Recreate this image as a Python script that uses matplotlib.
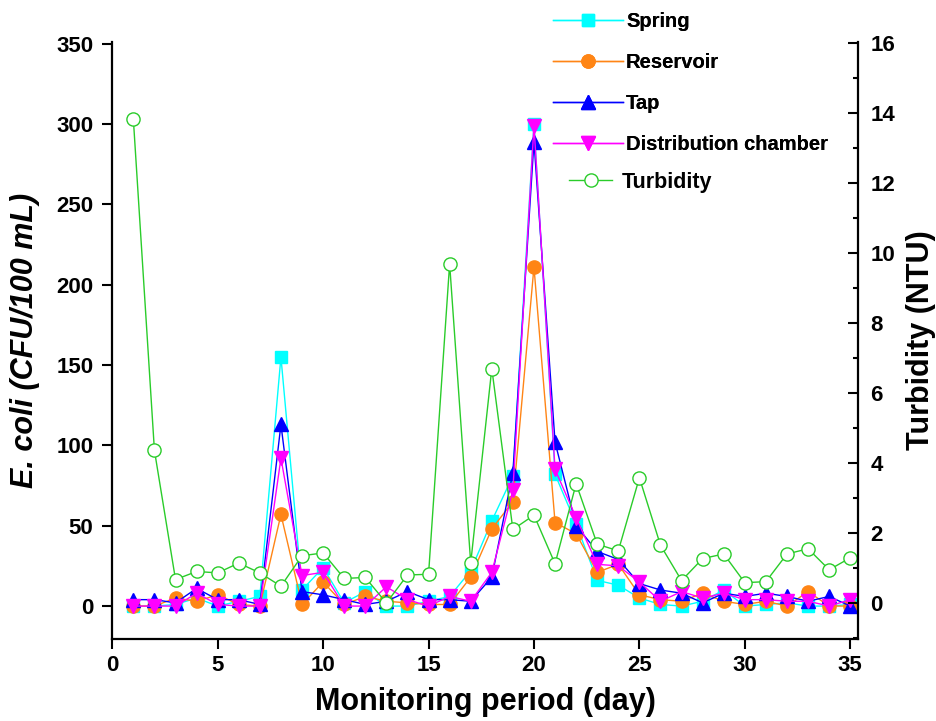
import matplotlib
matplotlib.use("Agg")
import matplotlib.pyplot as plt
from matplotlib.ticker import MultipleLocator

plt.rcParams['font.family'] = ['Liberation Sans', 'DejaVu Sans']
plt.rcParams['font.weight'] = 'bold'

# monitoring days
days = list(range(1, 36))

# E. coli counts (CFU/100 mL)
spring = [0, 0, 1, 5, 0, 3, 6, 155, 10, 24, 2, 9, 0, 0, 3, 6, 22, 53, 81, 300,
          82, 51, 16, 13, 5, 1, 0, 3, 10, 0, 1, 2, 0, 0, 1]
reservoir = [0, 0, 5, 3, 7, 1, 0, 57, 1, 15, 1, 6, 3, 2, 1, 1, 18, 48, 65, 211,
             52, 45, 21, 26, 7, 4, 3, 8, 3, 1, 3, 0, 9, 0, 0]
tap = [4, 4, 2, 11, 4, 4, 1, 113, 9, 7, 4, 1, 3, 9, 4, 4, 3, 18, 83, 289,
       102, 50, 34, 29, 14, 10, 8, 2, 8, 6, 8, 6, 3, 6, 0]
distribution = [0, 0, 0, 8, 1, 0, 0, 92, 19, 21, 0, 0, 12, 4, 0, 6, 3, 21, 72, 299,
                85, 55, 26, 25, 15, 3, 9, 5, 8, 4, 4, 3, 3, 0, 4]

# turbidity (NTU)
turbidity = [13.83, 4.36, 0.67, 0.90, 0.86, 1.14, 0.86, 0.48, 1.35, 1.43, 0.70, 0.73,
             0.0, 0.80, 0.82, 9.69, 1.14, 6.70, 2.10, 2.51, 1.12, 3.41, 1.68, 1.49,
             3.58, 1.65, 0.64, 1.27, 1.40, 0.58, 0.61, 1.40, 1.55, 0.95, 1.29]

fig = plt.figure(figsize=(9.37, 7.21), dpi=100)
ax = fig.add_axes([0.1198, 0.1137, 0.7955, 0.828])
ax2 = ax.twinx()

l1, = ax.plot(days, spring, color='#00FFFF', lw=1, marker='s', ms=9, label='Spring')
l2, = ax.plot(days, reservoir, color='#FF8515', lw=1, marker='o', ms=9.5, label='Reservoir')
l3, = ax.plot(days, tap, color='#0000FF', lw=1, marker='^', ms=10.5, label='Tap')
l4, = ax.plot(days, distribution, color='#FF00FF', lw=1, marker='v', ms=10.5,
              label='Distribution chamber')
l5, = ax2.plot(days, turbidity, color='#2ACC2A', lw=1, marker='o', ms=9.5,
               mfc='white', mec='#2ACC2A', mew=1, label='Turbidity')

ax.set_xlim(0, 35.35)
ax.set_ylim(-20.5, 351)
ax2.set_ylim(-1.03, 16.03)

ax.xaxis.set_major_locator(MultipleLocator(5))
ax.yaxis.set_major_locator(MultipleLocator(50))
ax2.yaxis.set_major_locator(MultipleLocator(2))
ax2.yaxis.set_minor_locator(MultipleLocator(1))

for a in (ax, ax2):
    a.spines['top'].set_visible(False)
    for s in a.spines.values():
        s.set_linewidth(1.6)
ax.spines['right'].set_visible(False)
ax2.spines['left'].set_visible(False)
ax2.spines['bottom'].set_visible(False)

ax.tick_params(axis='both', which='major', direction='out', length=7.5, width=1.5,
               labelsize=16)
ax.tick_params(axis='y', pad=6)
ax.tick_params(axis='x', pad=4)
ax2.tick_params(axis='y', which='major', direction='in', length=7.5, width=1.5,
                labelsize=16, pad=9)
ax2.tick_params(axis='y', which='minor', direction='in', length=3.5, width=1.5)

ax.set_xlabel('Monitoring period (day)', fontsize=22, fontweight='bold')
ax.set_ylabel('E. coli (CFU/100 mL)', fontsize=22, fontweight='bold', style='italic')
ax2.set_ylabel('Turbidity (NTU)', fontsize=22, fontweight='bold')
ax.xaxis.set_label_coords(0.5, -0.080)
ax.yaxis.set_label_coords(-0.0966, 0.5)
ax2.yaxis.set_label_coords(1.065, 0.5)

leg1 = fig.legend(handles=[l1, l2, l3, l4], loc='upper left',
                  bbox_to_anchor=(553 / 937, 1 - 12 / 721), frameon=False,
                  prop={'size': 14.5, 'weight': 'bold'}, handlelength=3.5,
                  handletextpad=0.12, labelspacing=1.1, borderpad=0,
                  borderaxespad=0)
fig.add_artist(leg1)
fig.legend(handles=[l5], loc='upper left',
           bbox_to_anchor=(569 / 937, 1 - 172 / 721), frameon=False,
           prop={'size': 15.5, 'weight': 'bold'}, handlelength=2.0,
           handletextpad=0.45, borderpad=0, borderaxespad=0)

fig.savefig('out.png', dpi=100)
